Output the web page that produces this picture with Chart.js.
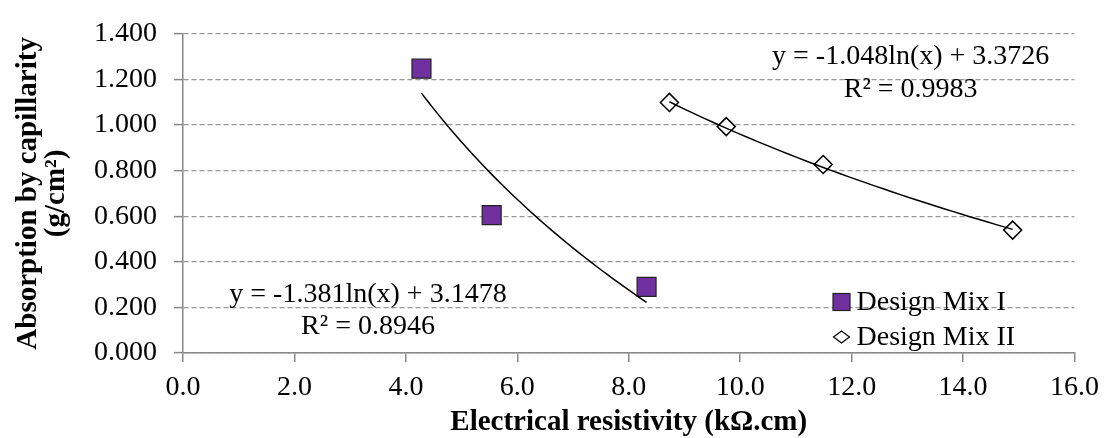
<!DOCTYPE html>
<html>
<head>
<meta charset="utf-8">
<script src="https://cdn.jsdelivr.net/npm/chart.js@4/dist/chart.umd.min.js"></script>
<style>
  html, body { margin: 0; padding: 0; background: #fff; }
  #wrap { width: 1108px; height: 438px; }
</style>
</head>
<body>
<div id="wrap"><canvas id="chart" width="1108" height="438"></canvas></div>
<script>
// values
const mix1X = [4.28, 5.54, 8.32];
const mix1Y = [1.247, 0.605, 0.29];
const mix2X = [8.73, 9.75, 11.49, 14.89];
const mix2Y = [1.099, 0.993, 0.827, 0.539];

// log trendline coefficients shown on the chart: y = a*ln(x) + b
const mix1Fit = [-1.381, 3.1478];
const mix2Fit = [-1.048, 3.3726];
const mix1Label = ['y = -1.381ln(x) + 3.1478', 'R² = 0.8946'];
const mix2Label = ['y = -1.048ln(x) + 3.3726', 'R² = 0.9983'];

const seriesNames = ['Design Mix I', 'Design Mix II'];
const xTitle = 'Electrical resistivity (kΩ.cm)';
const yTitle = ['Absorption by capillarity', '(g/cm²)'];

const PURPLE = '#7030A0';
const SERIF = '"Liberation Serif", "Times New Roman", serif';

const toPts = (xs, ys) => xs.map((x, i) => ({ x: x, y: ys[i] }));

// sample the trendline between first and last x of the series
function trend(xs, fit) {
  const lo = Math.min(...xs), hi = Math.max(...xs);
  const pts = [];
  const n = 40;
  for (let i = 0; i <= n; i++) {
    const x = lo + (hi - lo) * i / n;
    pts.push({ x: x, y: fit[0] * Math.log(x) + fit[1] });
  }
  return pts;
}

const labelsPlugin = {
  id: 'labels',
  afterDatasetsDraw(chart) {
    const { ctx, scales: { x, y }, chartArea } = chart;
    ctx.save();
    ctx.font = '28px ' + SERIF;
    ctx.fillStyle = '#000';
    ctx.textAlign = 'center';
    ctx.textBaseline = 'middle';
    // equation boxes
    const cx2 = x.getPixelForValue(13.06), cy2 = y.getPixelForValue(1.298);
    ctx.fillText(mix2Label[0], cx2, cy2);
    ctx.fillText(mix2Label[1], cx2, cy2 + 33);
    const cx1 = x.getPixelForValue(3.32), cy1 = y.getPixelForValue(0.255);
    ctx.fillText(mix1Label[0], cx1, cy1);
    ctx.fillText(mix1Label[1], cx1, cy1 + 32);

    // legend inside plot, bottom right
    const mx = chartArea.right - 233;
    const r1 = chartArea.bottom - 51, r2 = chartArea.bottom - 16;
    ctx.fillStyle = PURPLE;
    ctx.strokeStyle = '#222';
    ctx.lineWidth = 1.2;
    ctx.fillRect(mx - 8.5, r1 - 8.5, 17, 17);
    ctx.strokeRect(mx - 8.5, r1 - 8.5, 17, 17);
    ctx.beginPath();
    ctx.moveTo(mx - 8, r2);
    ctx.lineTo(mx, r2 - 6);
    ctx.lineTo(mx + 8, r2);
    ctx.lineTo(mx, r2 + 6);
    ctx.closePath();
    ctx.fillStyle = '#fff';
    ctx.fill();
    ctx.strokeStyle = '#000';
    ctx.stroke();
    ctx.fillStyle = '#000';
    ctx.textAlign = 'left';
    ctx.fillText(seriesNames[0], mx + 15, r1 + 1);
    ctx.fillText(seriesNames[1], mx + 15, r2 + 1);
    ctx.restore();
  }
};

new Chart(document.getElementById('chart'), {
  type: 'scatter',
  data: {
    datasets: [
      {
        label: seriesNames[0] + ' trend',
        data: trend(mix1X, mix1Fit),
        showLine: true,
        borderColor: '#000',
        borderWidth: 1.5,
        pointRadius: 0,
        order: 0,
      },
      {
        label: seriesNames[1] + ' trend',
        data: trend(mix2X, mix2Fit),
        showLine: true,
        borderColor: '#000',
        borderWidth: 1.5,
        pointRadius: 0,
        order: 0,
      },
      {
        label: seriesNames[0],
        data: toPts(mix1X, mix1Y),
        pointStyle: 'rect',
        pointRadius: 13.4,
        backgroundColor: PURPLE,
        borderColor: '#222',
        borderWidth: 1.2,
        order: 1,
      },
      {
        label: seriesNames[1],
        data: toPts(mix2X, mix2Y),
        pointStyle: 'rectRot',
        pointRadius: 9,
        backgroundColor: '#fff',
        borderColor: '#000',
        borderWidth: 1.5,
        order: 1,
      },
    ],
  },
  options: {
    responsive: false,
    maintainAspectRatio: false,
    animation: false,
    layout: { padding: { left: 0, top: 23, right: 32, bottom: 0 } },
    plugins: {
      legend: { display: false },
      tooltip: { enabled: false },
    },
    scales: {
      x: {
        type: 'linear',
        min: 0,
        max: 16,
        ticks: {
          stepSize: 2,
          padding: 9,
          color: '#000',
          font: { family: SERIF, size: 28 },
          callback: v => v.toFixed(1),
          maxRotation: 0,
        },
        grid: {
          drawOnChartArea: false,
          drawTicks: true,
          tickLength: 9,
          color: '#888',
          tickColor: '#888',
          lineWidth: 1.5,
        },
        border: { color: '#888', width: 1.5 },
        title: {
          display: true,
          text: xTitle,
          color: '#000',
          font: { family: SERIF, size: 29, weight: 'bold', lineHeight: 1 },
          padding: { top: 0, bottom: 1 },
        },
        afterFit: s => { s.height = 85; },
      },
      y: {
        type: 'linear',
        min: 0,
        max: 1.4,
        ticks: {
          stepSize: 0.2,
          padding: 17,
          color: '#000',
          font: { family: SERIF, size: 28 },
          callback: v => v.toFixed(3),
        },
        grid: {
          color: '#999',
          lineWidth: 1.2,
          tickLength: 9,
          tickColor: '#888',
          tickWidth: 1.5,
        },
        border: { color: '#888', width: 1.5, dash: [5, 3] },
        title: {
          display: true,
          text: yTitle,
          color: '#000',
          font: { family: SERIF, size: 29, weight: 'bold', lineHeight: 0.97 },
          padding: { top: 14, bottom: 0 },
        },
        afterFit: s => { s.width = 183; },
      },
    },
  },
  plugins: [labelsPlugin],
});
</script>
</body>
</html>
